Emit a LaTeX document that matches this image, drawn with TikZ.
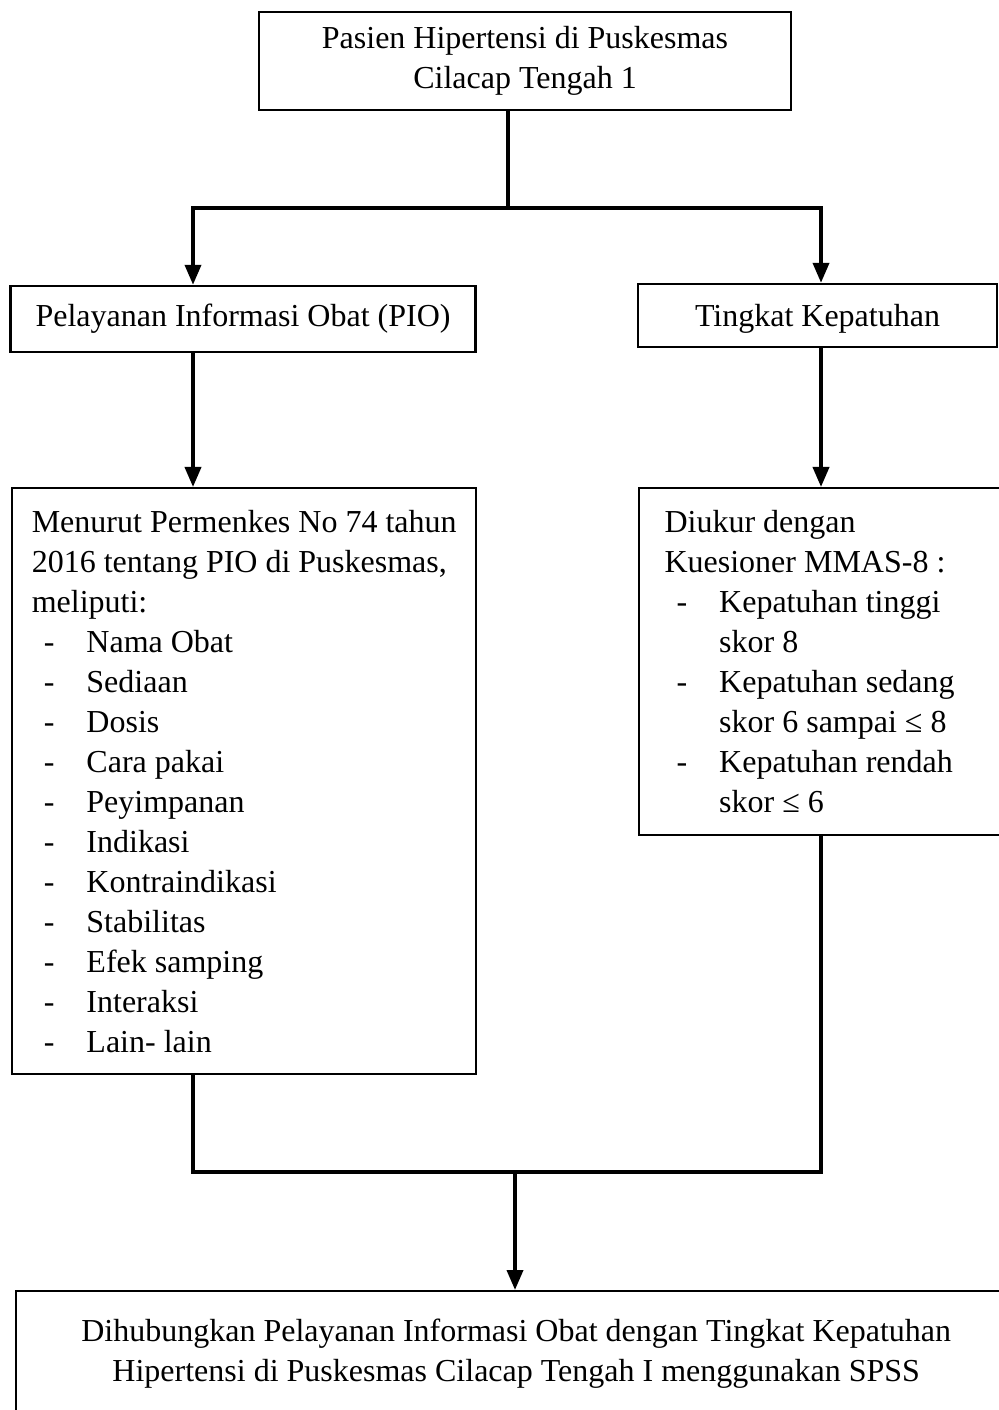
\documentclass[tikz,border=0pt]{standalone}
\usepackage{fontspec}
\setmainfont{Liberation Serif}
\usepackage{tikz}
\usetikzlibrary{arrows.meta,positioning,calc}
\newcommand{\dashln}[1]{\makebox[20.5pt][l]{\hspace{4.5pt}-}#1}
\newcommand{\contln}[1]{\hspace*{20.5pt}#1}

\begin{document}
\begin{tikzpicture}[x=0.375pt, y=-0.375pt,
  every node/.style={font=\fontsize{12pt}{15pt}\selectfont},
  box/.style={draw, line width=0.9pt, inner sep=0pt, align=center},
  link/.style={line width=1.4pt},
  arr/.style={link, -{Triangle[length=7.5pt,width=6pt]}}]
  \useasboundingbox (0,0) rectangle (998,1410);
  \node[box, minimum width=199.5pt, minimum height=36.75pt] (pasien) at (525,61) {Pasien Hipertensi di Puskesmas\\Cilacap Tengah 1};
  \node[box, minimum width=174.4pt, minimum height=24.75pt] (pio) at (243,319) {Pelayanan Informasi Obat (PIO)};
  \node[box, minimum width=134.6pt, minimum height=23.6pt, text depth=0pt] (tingkat) at (817.5,315.5) {Tingkat Kepatuhan};
  \node[box, anchor=north west, align=left, minimum width=174pt, minimum height=219.75pt] (permenkes) at (11,487)
    {Menurut Permenkes No 74 tahun\\2016 tentang PIO di Puskesmas,\\meliputi:\\
     \dashln{Nama Obat}\\\dashln{Sediaan}\\\dashln{Dosis}\\\dashln{Cara pakai}\\\dashln{Peyimpanan}\\
     \dashln{Indikasi}\\\dashln{Kontraindikasi}\\\dashln{Stabilitas}\\\dashln{Efek samping}\\
     \dashln{Interaksi}\\\dashln{Lain- lain}};
  \node[box, anchor=north west, align=flush left, text width=118pt, inner xsep=9.5pt, minimum height=130.1pt] (mmas) at (638,487)
    {Diukur dengan\\Kuesioner MMAS-8 :\\\dashln{Kepatuhan tinggi}\\\contln{skor 8}\\
     \dashln{Kepatuhan sedang}\\\contln{skor 6 sampai ≤ 8}\\\dashln{Kepatuhan rendah}\\\contln{skor ≤ 6}};
  \node[box, anchor=north west, minimum width=375pt, minimum height=46.5pt] (spss) at (15,1290)
    {Dihubungkan Pelayanan Informasi Obat dengan Tingkat Kepatuhan\\Hipertensi di Puskesmas Cilacap Tengah I menggunakan SPSS};
  % branch points
  \coordinate (split) at (508,208);
  \coordinate (lx) at (193,0);
  \coordinate (rx) at (821,0);
  \coordinate (merge) at (515,1172);
  \draw[link] (pasien.south -| split) -- (split);
  \draw[arr] (split) -| (lx |- pio.north);
  \draw[arr] (split) -| (rx |- tingkat.north);
  \draw[arr] (lx |- pio.south) -- (lx |- permenkes.north);
  \draw[arr] (rx |- tingkat.south) -- (rx |- mmas.north);
  \draw[link] (lx |- permenkes.south) |- (merge) -| (rx |- mmas.south);
  \draw[arr] (merge) -- (merge |- spss.north);
\end{tikzpicture}
\end{document}
